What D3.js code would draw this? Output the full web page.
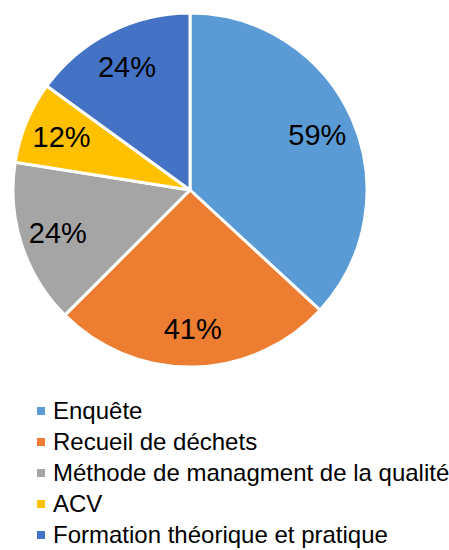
<!DOCTYPE html>
<html>
<head>
<meta charset="utf-8">
<script src="https://cdn.jsdelivr.net/npm/d3@7"></script>
<style>
  body { margin: 0; background: #fff; }
  svg { display: block; font-family: "Liberation Sans", Arial, sans-serif; }
</style>
</head>
<body>
<div id="chart"></div>
<script>
// Data
const categories = ["Enquête", "Recueil de déchets", "Méthode de managment de la qualité", "ACV", "Formation théorique et pratique"];
const values = [59, 41, 24, 12, 24];
const labels = ["59%", "41%", "24%", "12%", "24%"];
const colors = ["#5B9BD5", "#ED7D31", "#A5A5A5", "#FFC000", "#4472C4"];

const width = 449, height = 550;
const cx = 190, cy = 190, radius = 177;

const svg = d3.select("#chart")
    .append("svg")
    .attr("width", width)
    .attr("height", height);

const data = categories.map((c, i) => ({ name: c, value: values[i], label: labels[i], color: colors[i] }));

const pie = d3.pie()
    .value(d => d.value)
    .sort(null);

const arc = d3.arc()
    .innerRadius(0)
    .outerRadius(radius);

// centroid sits at ~139px from the centre
const labelArc = d3.arc()
    .innerRadius(139 * 2 - radius)
    .outerRadius(radius);

const g = svg.append("g")
    .attr("transform", `translate(${cx},${cy})`);

const arcs = pie(data);

g.selectAll("path")
    .data(arcs)
    .join("path")
    .attr("d", arc)
    .attr("fill", d => d.data.color)
    .attr("stroke", "#fff")
    .attr("stroke-width", 3)
    .attr("stroke-linejoin", "round");

// Slice labels
g.selectAll("text.pct")
    .data(arcs)
    .join("text")
    .attr("class", "pct")
    .attr("transform", d => `translate(${labelArc.centroid(d)})`)
    .attr("text-anchor", "middle")
    .attr("dy", "0.36em")
    .style("font-size", "29px")
    .style("fill", "#000")
    .text(d => d.data.label);

// Legend
const legend = svg.append("g")
    .attr("transform", "translate(37, 411)");

const rows = legend.selectAll("g")
    .data(data)
    .join("g")
    .attr("transform", (d, i) => `translate(0, ${i * 31})`);

rows.append("rect")
    .attr("x", 0)
    .attr("y", -4)
    .attr("width", 8)
    .attr("height", 8)
    .attr("fill", d => d.color);

rows.append("text")
    .attr("x", 16)
    .attr("y", 0)
    .attr("dy", "0.35em")
    .style("font-size", "24px")
    .style("fill", "#000")
    .text(d => d.name);
</script>
</body>
</html>
